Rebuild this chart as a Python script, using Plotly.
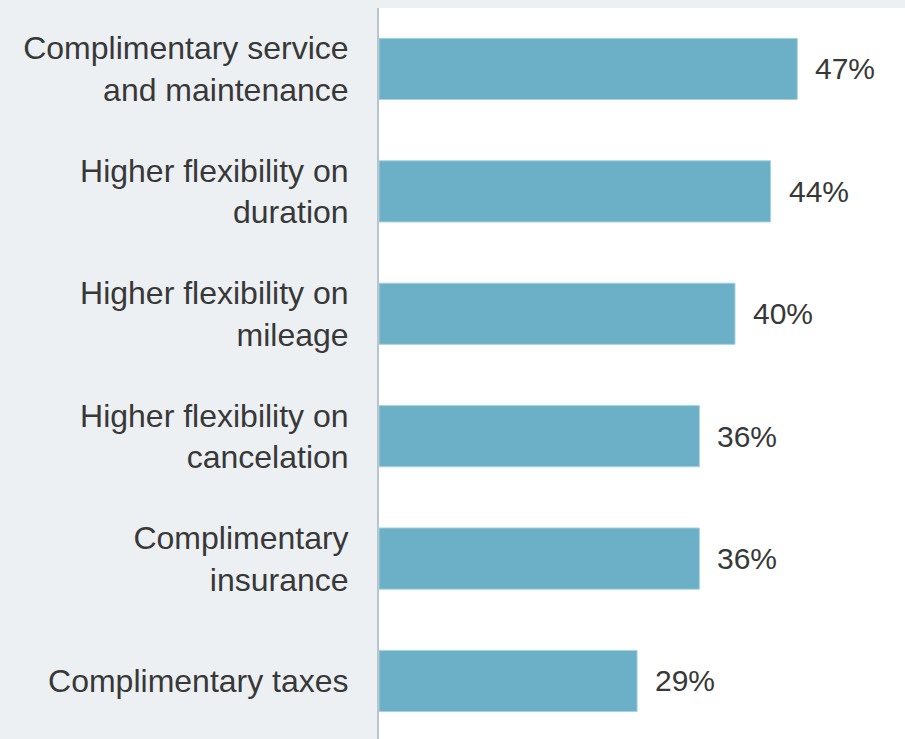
import plotly.graph_objects as go

# Survey results: most valued subscription features
categories = [
    "Complimentary service<br>and maintenance",
    "Higher flexibility on<br>duration",
    "Higher flexibility on<br>mileage",
    "Higher flexibility on<br>cancelation",
    "Complimentary<br>insurance",
    "Complimentary taxes",
]
values = [47, 44, 40, 36, 36, 29]
value_labels = [f"{v}%" for v in values]

BAR_COLOR = "#6cb0c7"
PANEL_BG = "#ecf0f3"
TEXT_COLOR = "#383838"
FONT = "Liberation Sans, Arial, sans-serif"

fig = go.Figure(
    go.Bar(
        x=values,
        y=categories,
        orientation="h",
        width=0.5,
        marker=dict(color=BAR_COLOR, line=dict(color="#a9d2e0", width=1)),
        hoverinfo="skip",
    )
)

# Percentage labels to the right of each bar
for cat, val, lab in zip(categories, values, value_labels):
    fig.add_annotation(
        x=val, y=cat, text=lab, showarrow=False,
        xanchor="left", yanchor="middle", xshift=16,
        font=dict(family=FONT, size=30, color=TEXT_COLOR),
    )

fig.update_layout(
    width=905, height=739,
    margin=dict(l=379, r=0, t=8, b=0),
    paper_bgcolor=PANEL_BG,
    plot_bgcolor="white",
    showlegend=False,
    font=dict(family=FONT, color=TEXT_COLOR),
    xaxis=dict(
        range=[0, 59.1], showgrid=False, zeroline=False,
        showticklabels=False, ticks="", fixedrange=True,
    ),
    yaxis=dict(
        range=[5.474, -0.498], showgrid=False, zeroline=False,
        showline=True, linecolor="#b8c4ce", linewidth=2,
        ticks="", ticklabelstandoff=22,
        tickfont=dict(family=FONT, size=32, color=TEXT_COLOR),
        fixedrange=True,
    ),
)

fig.write_html("out.html")
